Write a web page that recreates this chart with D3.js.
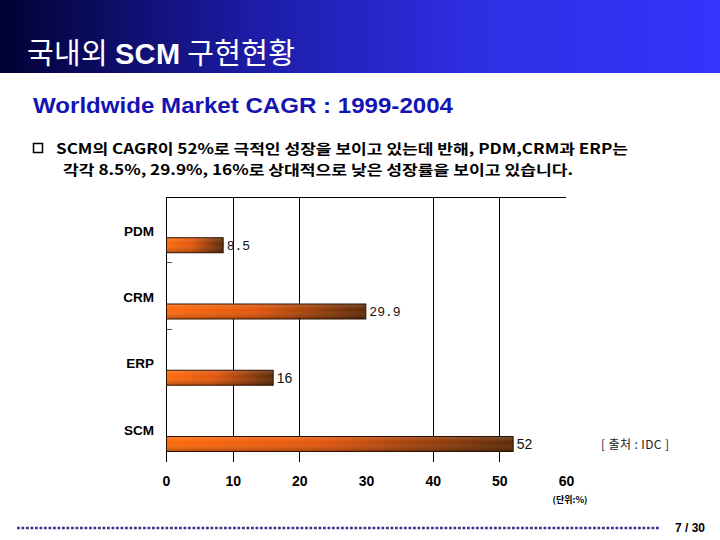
<!DOCTYPE html>
<html>
<head>
<meta charset="utf-8">
<script src="https://cdn.jsdelivr.net/npm/d3@7"></script>
<style>
  body { margin: 0; background: #fff; }
  svg { display: block; }
</style>
</head>
<body>
<div id="chart"></div>
<script>
// ---------------------------//
//           DATA             //
// ---------------------------//
const categories = ["PDM", "CRM", "ERP", "SCM"];
const cagrValues = [8.5, 29.9, 16, 52];
const valueLabels = ["8.5", "29.9", "16", "52"];
const tickValues = [0, 10, 20, 30, 40, 50, 60];
const gridValues = [0, 10, 20, 40, 50];   // the 30 line is not drawn in the original
const bulletLines = [
    "SCM의 CAGR이 52%로 극적인 성장을 보이고 있는데 반해, PDM,CRM과 ERP는",
    "각각 8.5%, 29.9%, 16%로 상대적으로 낮은 성장률을 보이고 있습니다."
];

const W = 720, H = 540;
const korean = "'Noto Sans CJK KR', 'Noto Sans', sans-serif";
const arial = "'Liberation Sans', Arial, sans-serif";

const svg = d3.select("#chart")
    .append("svg")
    .attr("width", W)
    .attr("height", H);

const defs = svg.append("defs");

// title bar gradient
const tg = defs.append("linearGradient").attr("id", "titleGrad");
[[0, "#010134"], [0.35, "#1c1ca6"], [0.65, "#2e2ee2"], [1, "#3434fc"]].forEach(s =>
    tg.append("stop").attr("offset", s[0]).attr("stop-color", s[1]));

// bar gradients
const bg = defs.append("linearGradient").attr("id", "barGrad");
[[0, "#ff6a0a"], [0.45, "#e2560c"], [1, "#5c2a06"]].forEach(s =>
    bg.append("stop").attr("offset", s[0]).attr("stop-color", s[1]));
const bs = defs.append("linearGradient").attr("id", "barShade")
    .attr("x1", 0).attr("y1", 0).attr("x2", 0).attr("y2", 1);
[[0, "#ffffff", 0.15], [0.4, "#ffffff", 0.0], [1, "#000000", 0.25]].forEach(s =>
    bs.append("stop").attr("offset", s[0]).attr("stop-color", s[1]).attr("stop-opacity", s[2]));

// ---------------------------//
//        HEADER TEXT         //
// ---------------------------//
svg.append("rect")
    .attr("x", 0).attr("y", 0)
    .attr("width", W).attr("height", 73)
    .attr("fill", "url(#titleGrad)");

const title = svg.append("text")
    .attr("x", 27).attr("y", 64)
    .attr("fill", "#fff")
    .attr("textLength", 268)
    .attr("lengthAdjust", "spacing")
    .style("font-size", "29px");
title.append("tspan").style("font-family", korean).text("국내외 ");
title.append("tspan").style("font-family", arial).style("font-weight", "bold").text("SCM");
title.append("tspan").style("font-family", korean).text(" 구현현황");

svg.append("text")
    .attr("x", 33).attr("y", 113)
    .attr("fill", "#1414b4")
    .attr("textLength", 420)
    .attr("lengthAdjust", "spacingAndGlyphs")
    .style("font-family", arial)
    .style("font-weight", "bold")
    .style("font-size", "22px")
    .text("Worldwide Market CAGR : 1999-2004");

svg.append("rect")
    .attr("x", 33.5).attr("y", 143.5)
    .attr("width", 9).attr("height", 9)
    .attr("fill", "none")
    .attr("stroke", "#000")
    .attr("stroke-width", 1.5);

svg.selectAll(".bullet")
    .data(bulletLines)
    .enter()
    .append("text")
    .attr("class", "bullet")
    .attr("x", (d, i) => i === 0 ? 56 : 63)
    .attr("y", (d, i) => 154 + i * 21)
    .attr("textLength", (d, i) => i === 0 ? 572 : 510)
    .attr("lengthAdjust", "spacingAndGlyphs")
    .style("font-family", korean)
    .style("font-weight", "bold")
    .style("font-size", "14px")
    .text(d => d);

// ---------------------------//
//       AXIS  AND SCALE      //
// ---------------------------//
const x = d3.scaleLinear().domain([0, 60]).range([166, 566]);
const y = d3.scaleBand().domain(categories).range([197, 462]).paddingInner(0);
const bw = y.bandwidth();

// top border line
svg.append("line")
    .attr("x1", x(0)).attr("x2", x(60))
    .attr("y1", 197.5).attr("y2", 197.5)
    .attr("stroke", "#000");

// vertical grid lines
svg.selectAll(".grid")
    .data(gridValues)
    .enter()
    .append("line")
    .attr("class", "grid")
    .attr("x1", d => Math.round(x(d)) + 0.5)
    .attr("x2", d => Math.round(x(d)) + 0.5)
    .attr("y1", 197).attr("y2", 462)
    .attr("stroke", "#000");

// small category ticks
svg.selectAll(".ctick")
    .data(categories.slice(1, 3))
    .enter()
    .append("line")
    .attr("class", "ctick")
    .attr("x1", 167).attr("x2", 172)
    .attr("y1", d => Math.round(y(d)) - 0.5)
    .attr("y2", d => Math.round(y(d)) - 0.5)
    .attr("stroke", "#555");

// x axis tick labels
const xAxis = svg.append("g")
    .attr("transform", "translate(0,476)")
    .call(d3.axisBottom(x).tickValues(tickValues).tickSize(0).tickPadding(0));
xAxis.select(".domain").remove();
xAxis.selectAll("text")
    .attr("fill", "#000")
    .style("font-family", arial)
    .style("font-weight", "bold")
    .style("font-size", "14px");

// category labels
svg.selectAll(".cat")
    .data(categories)
    .enter()
    .append("text")
    .attr("class", "cat")
    .attr("x", 154)
    .attr("y", d => y(d) + bw * 0.51 + 5)
    .attr("text-anchor", "end")
    .style("font-family", arial)
    .style("font-weight", "bold")
    .style("font-size", "13.5px")
    .text(d => d);

// ---------------------------//
//           BARS             //
// ---------------------------//
const barY = d => y(d) + bw * 0.615;
const barH = 15;

const bars = svg.selectAll(".bar")
    .data(categories)
    .enter()
    .append("g")
    .attr("class", "bar");

bars.append("rect")
    .attr("x", x(0) + 0.5)
    .attr("y", d => barY(d))
    .attr("width", (d, i) => x(cagrValues[i]) - x(0))
    .attr("height", barH)
    .attr("fill", "url(#barGrad)")
    .attr("stroke", "#2a1200")
    .attr("stroke-width", 1);

bars.append("rect")
    .attr("x", x(0) + 1)
    .attr("y", d => barY(d) + 0.5)
    .attr("width", (d, i) => x(cagrValues[i]) - x(0) - 1)
    .attr("height", barH - 1)
    .attr("fill", "url(#barShade)");

// value labels (the first two use a typewriter face in the original)
bars.append("text")
    .attr("x", (d, i) => x(cagrValues[i]) + 4)
    .attr("y", d => barY(d) + barH / 2 + 5)
    .style("font-family", (d, i) => i < 2 ? "'Liberation Mono', monospace" : arial)
    .style("font-size", (d, i) => i < 2 ? "13px" : "14px")
    .attr("fill", "#111")
    .text((d, i) => valueLabels[i]);

// source and unit notes
svg.append("text")
    .attr("x", 601).attr("y", 449)
    .attr("textLength", 68)
    .attr("lengthAdjust", "spacing")
    .style("font-family", korean)
    .style("font-size", "12px")
    .attr("fill", "#222")
    .text("[ 출처 : IDC ]");

svg.append("text")
    .attr("x", 570).attr("y", 503)
    .attr("text-anchor", "middle")
    .style("font-family", korean)
    .style("font-size", "9px")
    .style("font-weight", "bold")
    .text("(단위:%)");

// ---------------------------//
//          FOOTER            //
// ---------------------------//
svg.append("line")
    .attr("x1", 17).attr("x2", 660)
    .attr("y1", 528).attr("y2", 528)
    .attr("stroke", "#36368a")
    .attr("stroke-width", 2.5)
    .attr("stroke-dasharray", "2.8,1.7");

svg.append("text")
    .attr("x", 690).attr("y", 532)
    .attr("text-anchor", "middle")
    .style("font-family", "'Liberation Sans Narrow', " + arial)
    .style("font-weight", "bold")
    .style("font-size", "12px")
    .text("7 / 30");
</script>
</body>
</html>
